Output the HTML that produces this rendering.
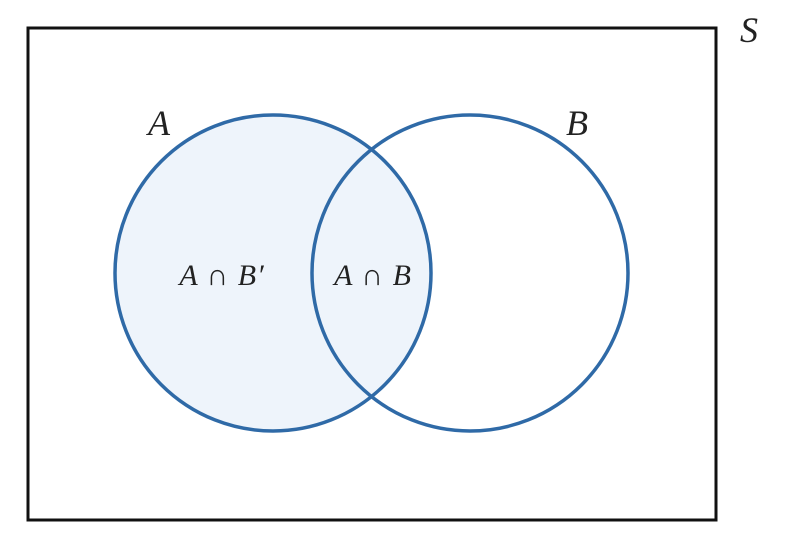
<!DOCTYPE html>
<html><head><style>body{margin:0;background:#fff}</style></head><body>
<svg width="794" height="542" viewBox="0 0 794 542" xmlns="http://www.w3.org/2000/svg">
<rect x="28" y="28" width="688" height="492" fill="#fff" stroke="#111" stroke-width="3"/>
<circle cx="273" cy="273" r="158" fill="#eef4fb"/>
<circle cx="273" cy="273" r="158" fill="none" stroke="#2f6aa7" stroke-width="3.5"/>
<circle cx="470" cy="273" r="158" fill="none" stroke="#2f6aa7" stroke-width="3.5"/>
<g font-family="Liberation Serif, serif" font-style="italic" fill="#222">
<text x="148" y="135" font-size="36">A</text>
<text x="566" y="135" font-size="36">B</text>
<text x="740" y="42" font-size="36">S</text>
<text x="222" y="285" font-size="30" text-anchor="middle" letter-spacing="1">A <tspan font-style="normal">∩</tspan> B′</text>
<text x="373" y="285" font-size="30" text-anchor="middle" letter-spacing="1">A <tspan font-style="normal">∩</tspan> B</text>
</g>
</svg>
</body></html>
